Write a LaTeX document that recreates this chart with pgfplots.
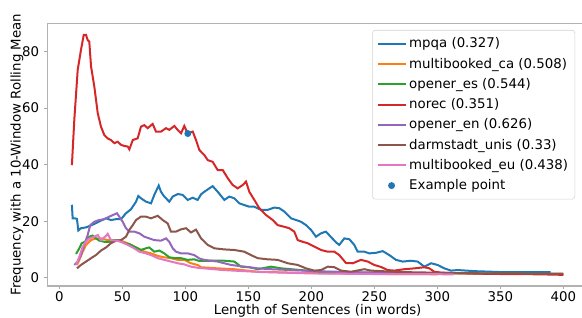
\documentclass[border=0pt]{standalone}
\usepackage{fontspec}
\setmainfont{DejaVu Sans}
\usepackage{pgfplots}
\pgfplotsset{compat=1.18}
\definecolor{c0}{HTML}{1F77B4}
\definecolor{c1}{HTML}{FF7F0E}
\definecolor{c2}{HTML}{2CA02C}
\definecolor{c3}{HTML}{D62728}
\definecolor{c4}{HTML}{9467BD}
\definecolor{c5}{HTML}{8C564B}
\definecolor{c6}{HTML}{E377C2}
\newcommand{\fs}{\fontsize{10}{12}\selectfont}
\begin{document}
\begin{tikzpicture}[font=\fs]
\begin{axis}[
  scale only axis, width=405.4pt, height=197pt,
  xmin=-9.5, xmax=419.5, ymin=-2.94, ymax=90,
  xtick={0,50,...,400}, ytick={0,20,...,80},
  tick pos=left, tick align=outside, major tick length=2.6pt,
  tick style={gray!70, line width=0.6pt},
  axis line style={gray!60, line width=0.8pt},
  /pgf/number format/assume math mode=true,
  tick label style={font=\fs},
  xticklabel style={yshift=2pt},
  label style={font=\fs},
  xlabel={Length of Sentences (in words)},
  ylabel={Frequency with a 10-Window Rolling Mean},
  xlabel style={at={(rel axis cs:0.5,0)}, anchor=base, yshift=-21.75pt},
  ylabel style={at={(rel axis cs:0,0.5)}, anchor=center, yshift=22.7pt},
  legend cell align=left,
  legend style={at={(1,1)}, anchor=north east, xshift=-9.6pt, yshift=-5pt,
    draw=gray!35, rounded corners=2pt, fill=white, font=\fs,
    row sep=2.1pt, inner xsep=3pt, inner ysep=3.6pt},
  legend image code/.code={\draw[#1, line width=1.5pt] (0pt,0pt) -- (21pt,0pt);},
  every axis plot/.append style={line width=1.5pt},
]
\coordinate (SW) at (rel axis cs:0,0);
\coordinate (NW) at (rel axis cs:0,1);
\addplot[c0] coordinates {
(10,25.8) (10.6,21) (12.5,21) (14,20.8) (15.1,16.7) (17.2,17.5) (21.2,17.8) (25.2,18.5) (29.1,19.3) (33.1,20.2) (37.1,21) (41,20.4) (45,20.7) (49,20.7) (52.9,22.8) (56.9,24.2) (60.9,26.9) (62.7,28.9) (64.8,28.1) (68.8,26.9) (72.8,26.3) (75.4,29.3) (78.9,32.6) (80.7,30.4) (83.3,28.7) (87.3,26.9) (90,28.7) (94,29.6) (97.9,29.3) (101.9,27.5) (105.9,28.3) (109.8,27.5) (112.5,29.5) (115.1,30.4) (121.7,32.4) (125.7,30.4) (131,27.5) (134.9,28.7) (138.9,28.1) (142.9,26.3) (146.8,25.7) (150.8,25.1) (154.8,25.1) (160.1,24) (165.4,24) (170.6,24.8) (174.6,24.6) (178.6,23.4) (183.9,21) (187.9,20.4) (191.8,19.8) (195.8,18.6) (199.8,16.9) (203.7,14.5) (207.7,15.7) (211.6,16.3) (215.6,14.4) (219.6,12.5) (222.2,11.6) (226.2,13.9) (230.2,13.6) (234.1,11.6) (236.8,9.2) (242.1,9.2) (246,8.6) (251.3,8.8) (256.7,9.4) (261.9,8) (267.2,6.3) (272.5,5.7) (279.1,6) (284.4,5.7) (289.7,3.9) (295,5.1) (300.3,4.5) (305.6,3.3) (310.9,2.5) (316.2,2.7) (330,2.3) (350,2.0) (370,2.0) (390,2.0)
};
\addlegendentry{mpqa (0.327)}
\addplot[c1] coordinates {
(14,4.5) (15.9,6.3) (18.6,9.2) (21.2,11.6) (25.2,13.3) (29.1,13.9) (33.1,13.9) (38.4,13.3) (43.7,13.3) (49,13.1) (52.9,12.4) (56.9,11.6) (62.2,10.4) (67.5,9.2) (72.8,8.6) (78.1,7.7) (83.3,7.2) (88.6,6.9) (94,6.3) (99.2,6.3) (104.5,5.1) (109.8,4.5) (112.5,3.7) (125.7,3.3) (138.9,3) (157.5,2.1) (183.9,1.8) (220,1.5) (260,1.3) (300,1.2)
};
\addlegendentry{multibooked\_ca (0.508)}
\addplot[c2] coordinates {
(13.3,8.4) (15.9,10.4) (17.8,12.2) (20.4,12.7) (23.8,14.5) (26.5,14.9) (29.1,13.9) (31.7,13.1) (35.7,12.7) (39.7,12.7) (43.7,13.3) (47.6,13.1) (51.6,12.2) (55.6,11.9) (59.5,11) (64.8,9.8) (68.8,10.4) (71.4,10.7) (75.4,9.2) (79.4,9.6) (83.3,8.6) (87.3,7.2) (92.6,6.9) (96.6,6.9) (101.9,6.3) (107.1,6.5) (111.1,5.9) (120.4,6) (131,6) (138.9,5.7) (144.2,3.9) (150.8,3.7) (157.5,3) (168,3.9) (176,3.3) (183.9,3) (191.8,2.7) (205,2.1) (240,1.8) (280,1.6) (320,1.5) (360,1.4) (400,1.3)
};
\addlegendentry{opener\_es (0.544)}
\addplot[c3] coordinates {
(10,39.8) (11.9,55.8) (14.6,73.5) (17.2,80.6) (19.4,85.9) (21.2,85.9) (22.5,84.1) (23.8,83.5) (25.2,74.7) (27.8,67.6) (30.5,58.2) (33.1,53.4) (35.7,50.5) (38.4,49.3) (41,48.7) (43.7,47.6) (46.3,48.1) (49,47) (51.6,46.6) (54.3,46.4) (55.6,45.4) (58.3,48.7) (62.2,49.3) (64.8,53.4) (67.5,54) (70.1,52.9) (74.1,54.4) (76.7,51.7) (80.7,51.7) (84.7,52.9) (87.3,52.3) (91.3,53.7) (93.9,52.3) (96.6,51.1) (99.2,53.7) (101.9,51.1) (105.9,51.7) (108.5,48.7) (111.1,45.2) (115.1,43.4) (117.8,41.6) (121.7,41) (125.7,38.1) (129.7,38.1) (133.7,35.2) (137.6,32.8) (141.6,31.6) (145.6,32.8) (148.2,34) (150.8,30.4) (154.8,27.5) (158.7,24.6) (164,22.2) (169.4,20.4) (173.3,18.6) (178.6,18) (182.5,17.5) (186.5,16.3) (189.2,13.3) (193.2,12.7) (197.1,12.2) (202.4,11) (207.7,9.8) (213,9.2) (218.3,9.2) (222.2,8) (227.5,5.2) (232.9,5.1) (239.4,6.3) (244.8,5.7) (250,4.5) (255.3,3.8) (260.6,2.7) (265.9,2.5) (273.8,3) (282,3.3) (289.7,3.7) (293.7,3.3) (297.6,2.1) (302.9,1.8) (320,1.5) (350,1.3) (380,1.2) (400,1.0)
};
\addlegendentry{norec (0.351)}
\addplot[c4] coordinates {
(11.9,4.5) (14.6,5.7) (17.2,8) (19.8,11.6) (22.5,15.1) (24.6,18.6) (27.8,19.8) (31.7,20.4) (35.7,20.7) (39.7,21.6) (43.7,22.4) (45.8,22.8) (47.6,21.6) (50.3,19.8) (52.9,17.5) (55.6,16.3) (59.5,16.3) (63.5,15.7) (67.5,14.5) (71.4,13.9) (75.4,13.3) (80.7,13.1) (84.7,13.9) (87.3,12.7) (90,10.4) (92.6,9.2) (96.6,8.6) (101.9,8.6) (107.1,8) (111.1,6.8) (115.1,6.3) (125.7,5.7) (136.3,4.5) (146.8,3.9) (157.5,3.3) (168,3) (183.9,2.7) (210,2.2) (250,1.8) (280,1.6)
};
\addlegendentry{opener\_en (0.626)}
\addplot[c5] coordinates {
(14,3.3) (17.2,4.5) (21.2,5.7) (25.2,6.9) (29.1,8) (33.1,9.6) (37.1,10.7) (41,12.2) (45,13.1) (49,13.3) (52.9,14.5) (55.6,16.9) (58.3,18.6) (60.9,20.4) (64.8,21.6) (68.8,21.6) (72.8,21) (78.1,21.9) (82.1,20.4) (86,19.2) (88.6,16.3) (92.6,16.3) (96.6,17.1) (100.6,17.5) (104.5,16) (108.5,17) (112.5,13.9) (117.8,11.6) (123,10.4) (131,10) (138.9,9.8) (146.8,9.2) (152.1,8) (157.5,6.9) (165.4,6.5) (173.3,6.3) (181.3,5.1) (189.2,4.5) (195.8,3.3) (202.4,2.5) (207.7,2.7) (213,3.9) (218.3,3.7) (223.6,2.5) (231.5,2.1) (242.1,3) (247.4,2.5) (270,2) (320,1.6) (360,1.5) (400,1.4)
};
\addlegendentry{darmstadt\_unis (0.33)}
\addplot[c6] coordinates {
(13.3,4.5) (15.9,7.4) (18.6,11) (21.2,12.7) (23.8,13.9) (27.8,14.5) (30.5,15.1) (33.1,13.3) (37.1,14.8) (38.4,15.5) (41,13.3) (45,13.1) (49,12.7) (54.3,11.6) (58.3,10.7) (63.5,9.2) (68.8,8.6) (72.8,8) (78.1,6.9) (83.3,6.3) (88.6,5.7) (94,5.1) (99.2,4.7) (104.5,3.9) (109.8,3.5) (130,2.7) (160,2) (200,1.5) (250,1.3) (313,1.2)
};
\addlegendentry{multibooked\_eu (0.438)}
\addplot[only marks, mark=*, mark size=1.8pt, c0, mark options={draw=c0, fill=c0},
  legend image code/.code={\fill[c0] (10.5pt,0pt) circle (1.8pt);}] coordinates {(102,51)};
\addlegendentry{Example point}
\end{axis}
\pgfresetboundingbox
\path[use as bounding box] ([shift={(-35.5pt,-24pt)}]SW) rectangle ([shift={(401pt,17.5pt)}]NW);
\end{tikzpicture}
\end{document}
